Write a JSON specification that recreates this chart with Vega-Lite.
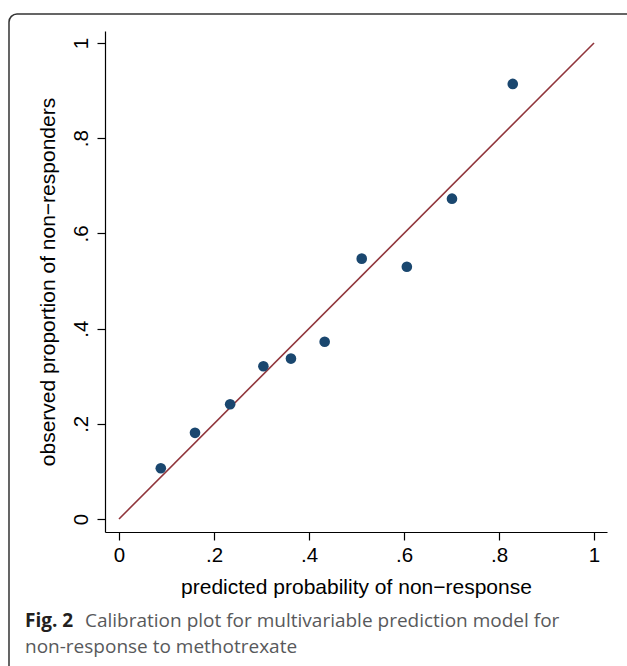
{
  "$schema": "https://vega.github.io/schema/vega-lite/v6.json",
  "width": 502,
  "height": 501,
  "autosize": {"type": "none"},
  "padding": {"left": 105, "top": 31, "right": 20, "bottom": 134},
  "background": "white",
  "config": {
    "view": {"stroke": null},
    "font": "Liberation Sans",
    "axis": {
      "grid": false,
      "domainColor": "#000000",
      "domainWidth": 1.2,
      "tickColor": "#000000",
      "tickWidth": 1.2,
      "tickSize": 8,
      "labelColor": "#000000",
      "labelFont": "Liberation Sans",
      "labelFontSize": 20.5,
      "titleFont": "Liberation Sans",
      "titleFontSize": 21,
      "titleFontWeight": "normal",
      "titleColor": "#000000"
    }
  },
  "datasets": {
    "points": [
      {"predicted": 0.088, "observed": 0.1065},
      {"predicted": 0.160, "observed": 0.181},
      {"predicted": 0.234, "observed": 0.241},
      {"predicted": 0.304, "observed": 0.321},
      {"predicted": 0.362, "observed": 0.337},
      {"predicted": 0.433, "observed": 0.3725},
      {"predicted": 0.511, "observed": 0.547},
      {"predicted": 0.606, "observed": 0.530},
      {"predicted": 0.701, "observed": 0.673},
      {"predicted": 0.829, "observed": 0.914}
    ],
    "diagonal": [
      {"predicted": 0, "observed": 0},
      {"predicted": 1, "observed": 1}
    ]
  },
  "layer": [
    {
      "data": {"name": "diagonal"},
      "mark": {"type": "line", "color": "#90353b", "strokeWidth": 1.6},
      "encoding": {
        "x": {
          "field": "predicted", "type": "quantitative",
          "scale": {"domain": [-0.02947, 1.02737], "zero": false, "nice": false},
          "axis": {
            "values": [0, 0.2, 0.4, 0.6, 0.8, 1],
            "labelExpr": "datum.value == 0 ? '0' : datum.value == 1 ? '1' : replace(format(datum.value, '.1f'), '0.', '.')",
            "labelBaseline": "alphabetic",
            "labelPadding": 21,
            "title": "predicted probability of non\u2212response",
            "titleBaseline": "alphabetic",
            "titleY": 61
          }
        },
        "y": {
          "field": "observed", "type": "quantitative",
          "scale": {"domain": [-0.02731, 1.02521], "zero": false, "nice": false},
          "axis": {
            "values": [0, 0.2, 0.4, 0.6, 0.8, 1],
            "labelExpr": "datum.value == 0 ? '0' : datum.value == 1 ? '1' : replace(format(datum.value, '.1f'), '0.', '.')",
            "labelAngle": 270,
            "labelAlign": "center",
            "labelBaseline": "alphabetic",
            "labelPadding": 10,
            "title": "observed proportion of non\u2212responders",
            "titleBaseline": "alphabetic",
            "titleX": -51,
            "titleY": 250.5
          }
        }
      }
    },
    {
      "data": {"name": "points"},
      "mark": {"type": "circle", "color": "#1a476f", "opacity": 1, "size": 113},
      "encoding": {
        "x": {"field": "predicted", "type": "quantitative"},
        "y": {"field": "observed", "type": "quantitative"}
      }
    },
    {
      "data": {"values": [{}]},
      "mark": {"type": "rect", "fill": null, "fillOpacity": 0, "stroke": "#333333", "strokeWidth": 1.5, "cornerRadius": 8, "clip": false},
      "encoding": {
        "x": {"datum": -0.23158, "type": "quantitative"},
        "x2": {"datum": 1.0863},
        "y": {"datum": 1.06092, "type": "quantitative"},
        "y2": {"datum": -0.35924}
      }
    },
    {
      "data": {"values": [{}]},
      "mark": {"type": "text", "text": "Fig. 2", "font": "Open Sans", "fontSize": 19, "fontWeight": "bold", "color": "#231f20", "align": "left", "baseline": "alphabetic"},
      "encoding": {
        "x": {"datum": -0.1979, "type": "quantitative"},
        "y": {"datum": -0.2269, "type": "quantitative"}
      }
    },
    {
      "data": {"values": [{}]},
      "mark": {"type": "text", "text": "Calibration plot for multivariable prediction model for", "font": "Open Sans", "fontSize": 19, "color": "#58595b", "align": "left", "baseline": "alphabetic"},
      "encoding": {
        "x": {"datum": -0.0716, "type": "quantitative"},
        "y": {"datum": -0.2269, "type": "quantitative"}
      }
    },
    {
      "data": {"values": [{}]},
      "mark": {"type": "text", "text": "non-response to methotrexate", "font": "Open Sans", "fontSize": 19, "color": "#58595b", "align": "left", "baseline": "alphabetic"},
      "encoding": {
        "x": {"datum": -0.1979, "type": "quantitative"},
        "y": {"datum": -0.2815, "type": "quantitative"}
      }
    }
  ]
}
